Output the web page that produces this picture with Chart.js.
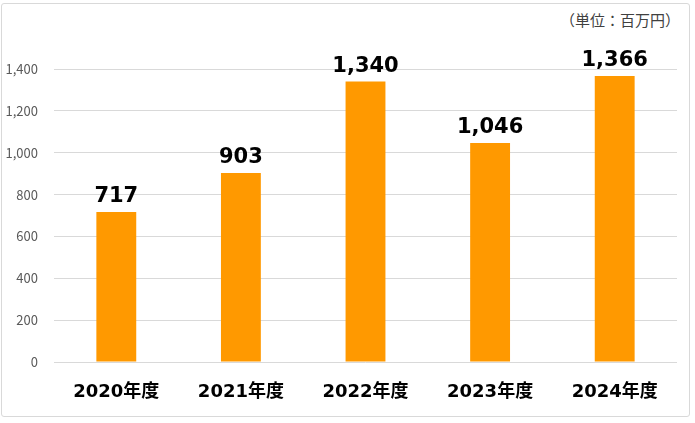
<!DOCTYPE html>
<html>
<head>
<meta charset="utf-8">
<script src="https://cdn.jsdelivr.net/npm/chart.js@4/dist/chart.umd.min.js"></script>
<style>
  html, body { margin: 0; padding: 0; background: #fff; }
  #wrap { position: relative; width: 695px; height: 423px; }
  #frame {
    position: absolute; left: 1px; top: 3px; width: 689px; height: 414px;
    border: 1px solid #d9d9d9; border-radius: 3px; box-sizing: border-box;
  }
  #unit {
    position: absolute; right: 15px; top: 9px;
    font: 15px "Noto Sans CJK JP", sans-serif; color: #404040; line-height: 22px;
  }
  canvas { position: absolute; left: 0; top: 0; }
</style>
</head>
<body>
<div id="wrap">
  <div id="frame"></div>
  <div id="unit">（単位：百万円）</div>
  <canvas id="chart" width="695" height="423"></canvas>
</div>
<script>
const years = ["2020年度", "2021年度", "2022年度", "2023年度", "2024年度"];
const sales = [717, 903, 1340, 1046, 1366];
const yTicks = [0, 200, 400, 600, 800, 1000, 1200, 1400];

const valueLabels = {
  id: "valueLabels",
  afterDatasetsDraw(chart) {
    const ctx = chart.ctx;
    const meta = chart.getDatasetMeta(0);
    ctx.save();
    ctx.font = "bold 21px 'DejaVu Sans', sans-serif";
    ctx.fillStyle = "#000";
    ctx.textAlign = "center";
    ctx.textBaseline = "bottom";
    meta.data.forEach((bar, i) => {
      ctx.fillText(sales[i].toLocaleString("en-US"), bar.x, bar.y - 5);
    });
    ctx.restore();
  }
};

new Chart(document.getElementById("chart"), {
  type: "bar",
  data: {
    labels: years,
    datasets: [{
      data: sales,
      backgroundColor: "#ff9900",
      categoryPercentage: 1,
      barPercentage: 0.32
    }]
  },
  options: {
    responsive: false,
    animation: false,
    layout: { padding: { left: 0, right: 18, top: 69, bottom: 0 } },
    plugins: { legend: { display: false }, tooltip: { enabled: false } },
    scales: {
      x: {
        grid: { display: false },
        border: { display: false },
        ticks: {
          color: "#000",
          padding: 12,
          font: { family: "'DejaVu Sans', 'Noto Sans CJK JP', sans-serif", size: 18, weight: "bold" }
        },
        afterFit(scale) { scale.height = 61; }
      },
      y: {
        min: 0,
        max: 1400,
        afterBuildTicks(scale) { scale.ticks = yTicks.map(v => ({ value: v })); },
        grid: { color: "#d9d9d9", drawTicks: false },
        border: { display: false },
        ticks: {
          color: "#595959",
          padding: 16,
          font: { family: "'Noto Sans CJK JP', sans-serif", size: 13 },
          callback: v => v.toLocaleString("en-US")
        },
        afterFit(scale) { scale.width = 54; }
      }
    }
  },
  plugins: [valueLabels]
});
</script>
</body>
</html>
